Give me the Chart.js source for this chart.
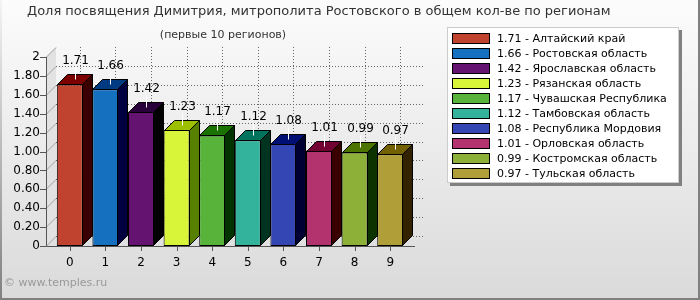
<!DOCTYPE html>
<html>
<head>
<meta charset="utf-8">
<script src="https://cdn.jsdelivr.net/npm/chart.js@4/dist/chart.umd.min.js"></script>
<style>
  html, body { margin: 0; padding: 0; background: #fff; }
  #wrap { width: 700px; height: 300px; }
</style>
</head>
<body>
<div id="wrap"><canvas id="chart" width="700" height="300"></canvas></div>
<script>
// Data
const categories = ['0', '1', '2', '3', '4', '5', '6', '7', '8', '9'];
const values = [1.71, 1.66, 1.42, 1.23, 1.17, 1.12, 1.08, 1.01, 0.99, 0.97];
const regions = [
  'Алтайский край',
  'Ростовская область',
  'Ярославская область',
  'Рязанская область',
  'Чувашская Республика',
  'Тамбовская область',
  'Республика Мордовия',
  'Орловская область',
  'Костромская область',
  'Тульская область'
];
const frontColors = ['#c0432f', '#1570bf', '#641470', '#d8f53a', '#58b33a', '#33b39c', '#3346b3', '#b3336e', '#8cb038', '#b09e38'];
const topColors = ['#7d0000', '#003a80', '#28003a', '#9cbf00', '#1a7300', '#00735c', '#000f73', '#730033', '#4d7300', '#736000'];
const sideColors = ['#3a0000', '#000040', '#000000', '#577f00', '#003300', '#003320', '#000033', '#3a0000', '#0d3300', '#332200'];

const chartTitle = 'Доля посвящения Димитрия, митрополита Ростовского в общем кол-ве по регионам';
const chartSubtitle = '(первые 10 регионов)';
const copyright = '© www.temples.ru';

const FONT = '"DejaVu Sans", Verdana, sans-serif';
const DEPTH = 10;

const fmtTick = v => {
  const r = Math.round(v * 100) / 100;
  if (r === 0 || r === 2) return String(r);
  return r.toFixed(2);
};

// Background, frame, texts, back wall and axes
const backdrop = {
  id: 'backdrop',
  beforeDraw(chart) {
    const { ctx, chartArea, scales } = chart;
    const W = chart.width, H = chart.height;
    const y = scales.y, x = scales.x;
    const axisX = 46;
    const right = chartArea.right + 7;

    ctx.save();
    const bg = ctx.createLinearGradient(0, 0, 0, H);
    bg.addColorStop(0, '#fcfcfc');
    bg.addColorStop(1, '#dadada');
    ctx.fillStyle = bg;
    ctx.fillRect(0, 0, W, H);

    // frame
    ctx.fillStyle = '#808080';
    ctx.fillRect(W - 2, 0, 2, H);
    ctx.fillRect(0, H - 2, W, 2);
    const lb = ctx.createLinearGradient(0, 0, 0, H);
    lb.addColorStop(0, '#f4f4f4');
    lb.addColorStop(1, '#808080');
    ctx.fillStyle = lb;
    ctx.fillRect(0, 0, 2, H);

    // texts
    ctx.fillStyle = '#333';
    ctx.textBaseline = 'middle';
    ctx.font = '13px ' + FONT;
    ctx.textAlign = 'left';
    ctx.fillText(chartTitle, 27, 12);
    ctx.font = '11px ' + FONT;
    ctx.textAlign = 'center';
    ctx.fillText(chartSubtitle, 223, 35);
    ctx.fillStyle = '#999';
    ctx.textAlign = 'left';
    ctx.fillText(copyright, 4, 283);

    const y0 = y.getPixelForValue(0);
    const yTop = y.getPixelForValue(2);

    // left wall
    ctx.fillStyle = '#e2e2e2';
    ctx.beginPath();
    ctx.moveTo(axisX, y0);
    ctx.lineTo(axisX + DEPTH, y0 - DEPTH);
    ctx.lineTo(axisX + DEPTH, yTop - DEPTH);
    ctx.lineTo(axisX, yTop);
    ctx.closePath();
    ctx.fill();

    ctx.lineWidth = 1;
    ctx.strokeStyle = '#a0a0a0';
    y.ticks.forEach(t => {
      const py = Math.round(y.getPixelForValue(t.value)) + 0.5;
      ctx.beginPath();
      ctx.moveTo(axisX, py);
      ctx.lineTo(axisX + DEPTH, py - DEPTH);
      ctx.stroke();
    });

    // dotted grid on back wall
    ctx.strokeStyle = '#666';
    ctx.setLineDash([1, 2]);
    y.ticks.forEach(t => {
      if (t.value >= 2) return;
      const py = Math.round(y.getPixelForValue(t.value)) - DEPTH + 0.5;
      ctx.beginPath();
      ctx.moveTo(axisX + DEPTH, py);
      ctx.lineTo(right + DEPTH, py);
      ctx.stroke();
    });
    categories.forEach((c, i) => {
      const px = Math.round(x.getPixelForValue(i)) + DEPTH + 0.5;
      ctx.beginPath();
      ctx.moveTo(px, yTop - DEPTH);
      ctx.lineTo(px, y0 - DEPTH);
      ctx.stroke();
    });
    ctx.setLineDash([]);

    // axes
    ctx.strokeStyle = '#555';
    ctx.beginPath();
    ctx.moveTo(axisX + 0.5, yTop);
    ctx.lineTo(axisX + 0.5, Math.round(y0) + 0.5);
    ctx.lineTo(right, Math.round(y0) + 0.5);
    ctx.stroke();
    y.ticks.forEach(t => {
      const py = Math.round(y.getPixelForValue(t.value)) + 0.5;
      ctx.beginPath();
      ctx.moveTo(axisX - 6, py);
      ctx.lineTo(axisX, py);
      ctx.stroke();
    });
    categories.forEach((c, i) => {
      const px = Math.round(x.getPixelForValue(i)) + 0.5;
      ctx.beginPath();
      ctx.moveTo(px, y0);
      ctx.lineTo(px, y0 + 5);
      ctx.stroke();
    });
    ctx.restore();
  }
};

// Top and side faces, value labels, legend
const bars3d = {
  id: 'bars3d',
  afterDatasetsDraw(chart) {
    const { ctx } = chart;
    const meta = chart.getDatasetMeta(0);
    ctx.save();
    ctx.lineWidth = 1;
    ctx.strokeStyle = '#000';
    meta.data.forEach((bar, i) => {
      const p = bar.getProps(['x', 'y', 'base', 'width'], true);
      const L = Math.round(p.x - p.width / 2) + 0.5;
      const R = Math.round(p.x + p.width / 2) - 0.5;
      const T = Math.round(p.y) + 0.5;
      const B = Math.round(p.base) - 0.5;

      ctx.fillStyle = topColors[i];
      ctx.beginPath();
      ctx.moveTo(L, T);
      ctx.lineTo(L + DEPTH, T - DEPTH);
      ctx.lineTo(R + DEPTH, T - DEPTH);
      ctx.lineTo(R, T);
      ctx.closePath();
      ctx.fill();
      ctx.stroke();

      ctx.fillStyle = sideColors[i];
      ctx.beginPath();
      ctx.moveTo(R, T);
      ctx.lineTo(R + DEPTH, T - DEPTH);
      ctx.lineTo(R + DEPTH, B - DEPTH);
      ctx.lineTo(R, B);
      ctx.closePath();
      ctx.fill();
      ctx.stroke();

      // value label with pointer
      const cx = Math.round(p.x + DEPTH / 2) + 0.5;
      ctx.strokeStyle = '#fff';
      ctx.beginPath();
      ctx.moveTo(cx, T - DEPTH - 7);
      ctx.lineTo(cx, T - DEPTH / 2);
      ctx.stroke();
      ctx.strokeStyle = '#000';
      ctx.fillStyle = '#000';
      ctx.font = '12px ' + FONT;
      ctx.textAlign = 'center';
      ctx.textBaseline = 'middle';
      ctx.fillText(values[i].toFixed(2), cx, T - DEPTH - 14);
    });
    ctx.restore();
  },
  afterDraw(chart) {
    const { ctx } = chart;
    const bx = 447, by = 27, bw = 232, bh = 156;
    ctx.save();
    ctx.fillStyle = '#808080';
    ctx.fillRect(bx + 3, by + 3, bw, bh);
    ctx.fillStyle = '#fff';
    ctx.fillRect(bx, by, bw, bh);
    ctx.strokeStyle = '#ccc';
    ctx.strokeRect(bx + 0.5, by + 0.5, bw - 1, bh - 1);
    ctx.font = '11px ' + FONT;
    ctx.textAlign = 'left';
    ctx.textBaseline = 'middle';
    regions.forEach((r, i) => {
      const top = 33 + i * 15;
      ctx.fillStyle = frontColors[i];
      ctx.fillRect(452, top, 38, 11);
      ctx.strokeStyle = '#000';
      ctx.strokeRect(452.5, top + 0.5, 37, 10);
      ctx.fillStyle = '#000';
      ctx.fillText(values[i].toFixed(2) + ' - ' + r, 497, top + 6);
    });
    ctx.restore();
  }
};

new Chart(document.getElementById('chart'), {
  type: 'bar',
  data: {
    labels: categories,
    datasets: [{
      data: values,
      backgroundColor: frontColors,
      borderColor: '#000',
      borderWidth: 1,
      borderSkipped: false,
      barPercentage: 0.73,
      categoryPercentage: 1
    }]
  },
  options: {
    responsive: false,
    animation: false,
    layout: { padding: { left: 0, right: 292, top: 57, bottom: 0 } },
    plugins: {
      legend: { display: false },
      tooltip: { enabled: false }
    },
    scales: {
      x: {
        afterFit: s => { s.height = 54; },
        grid: { display: false, tickLength: 8 },
        border: { display: false },
        ticks: { padding: 2, color: '#000', maxRotation: 0, font: { family: FONT, size: 12 } }
      },
      y: {
        min: 0,
        max: 2,
        afterFit: s => { s.width = 52; },
        grid: { display: false, tickLength: 8 },
        border: { display: false },
        ticks: { stepSize: 0.2, padding: 4, color: '#000', font: { family: FONT, size: 12 }, callback: v => fmtTick(v) }
      }
    }
  },
  plugins: [backdrop, bars3d]
});
</script>
</body>
</html>
